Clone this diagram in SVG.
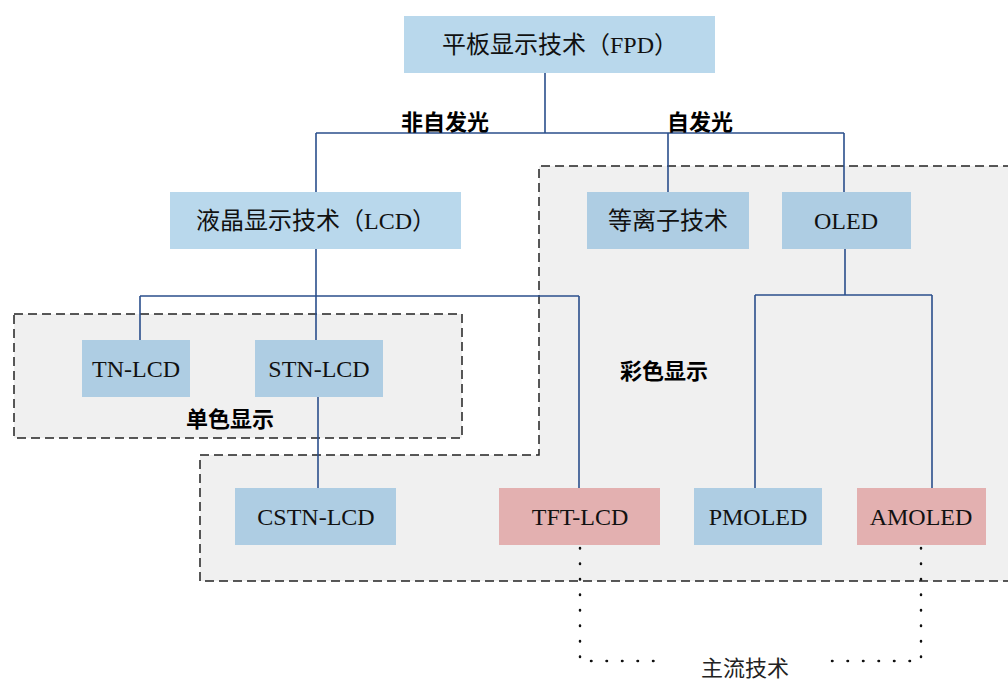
<svg xmlns="http://www.w3.org/2000/svg" width="1008" height="682" viewBox="0 0 1008 682">
<style>
.region{fill:#f0f0f0;stroke:#222;stroke-width:1.5;stroke-dasharray:9 5}
.n1{fill:#b9d8ec}
.n2{fill:#aecde3}
.n3{fill:#e3b0b0}
.t{font-family:"Liberation Serif","Noto Sans CJK SC",serif;font-size:24px;fill:#111;text-anchor:middle;dominant-baseline:central}
.lb{font-family:"Noto Sans CJK SC","Liberation Sans",sans-serif;font-size:22px;font-weight:bold;fill:#000;text-anchor:middle;dominant-baseline:central}
.ln{font-family:"Noto Sans CJK SC","Liberation Sans",sans-serif;font-size:22px;fill:#222;text-anchor:middle;dominant-baseline:central}
.c{fill:none;stroke:#2b4f8c;stroke-width:1.6}
.d{fill:none;stroke:#111;stroke-width:2.5;stroke-linecap:round;stroke-dasharray:0.5 15}
</style>
<rect width="1008" height="682" fill="#fff"/>
<g id="region-mono">
<rect class="region" x="14" y="314" width="448" height="124"/>
<text class="lb" x="230" y="417">单色显示</text>
</g>
<g id="region-color">
<path class="region" d="M1012 166 H539 V455 H200 V581 H1012"/>
<text class="lb" x="664" y="369">彩色显示</text>
</g>
<g id="connectors">
<path class="c" d="M545 73 V133 M316 133 H844 M316 133 V192 M668 133 V192 M844 133 V192"/>
<path class="c" d="M316 249 V296 M140 296 H579 M140 296 V340 M316 296 V340 M579 296 V488"/>
<path class="c" d="M318 397 V488"/>
<path class="c" d="M845 249 V295 M755 295 H932 M755 295 V488 M932 295 V488"/>
<path class="d" d="M580 548 V661 H655"/>
<path class="d" d="M921 548 V661 H832"/>
</g>
<g id="label-nonemissive"><text class="lb" x="445" y="120">非自发光</text></g>
<g id="label-emissive"><text class="lb" x="700" y="120">自发光</text></g>
<g id="label-mainstream"><text class="ln" x="745" y="666">主流技术</text></g>
<g id="node-fpd"><rect class="n1" x="404" y="16" width="311" height="57"/><text class="t" x="560" y="45">平板显示技术（FPD）</text></g>
<g id="node-lcd"><rect class="n1" x="170" y="192" width="291" height="57"/><text class="t" x="316" y="221">液晶显示技术（LCD）</text></g>
<g id="node-plasma"><rect class="n2" x="587" y="192" width="162" height="57"/><text class="t" x="668" y="221">等离子技术</text></g>
<g id="node-oled"><rect class="n2" x="782" y="192" width="129" height="57"/><text class="t" x="846" y="221">OLED</text></g>
<g id="node-tn"><rect class="n2" x="82" y="340" width="108" height="57"/><text class="t" x="136" y="369">TN-LCD</text></g>
<g id="node-stn"><rect class="n2" x="255" y="340" width="128" height="57"/><text class="t" x="319" y="369">STN-LCD</text></g>
<g id="node-cstn"><rect class="n2" x="235" y="488" width="161" height="57"/><text class="t" x="316" y="517">CSTN-LCD</text></g>
<g id="node-tft"><rect class="n3" x="499" y="488" width="161" height="57"/><text class="t" x="580" y="517">TFT-LCD</text></g>
<g id="node-pmoled"><rect class="n2" x="694" y="488" width="128" height="57"/><text class="t" x="758" y="517">PMOLED</text></g>
<g id="node-amoled"><rect class="n3" x="857" y="488" width="129" height="57"/><text class="t" x="921" y="517">AMOLED</text></g>
</svg>
